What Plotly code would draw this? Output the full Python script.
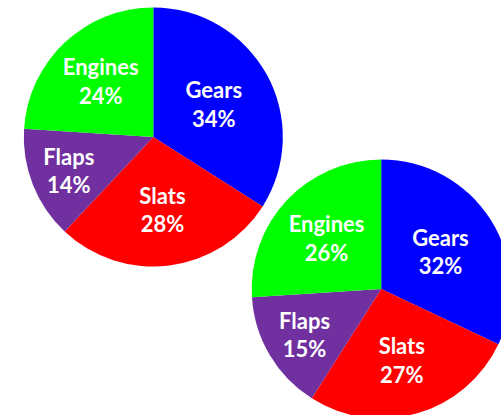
import plotly.graph_objects as go

labels = ["Gears", "Slats", "Flaps", "Engines"]
values_a = [34, 28, 14, 24]
values_b = [32, 27, 15, 26]
colors = ["#0000FF", "#FF0000", "#7030A0", "#00FF00"]

W, H = 520, 430

def pie(values, dx, dy):
    return go.Pie(
        labels=labels, values=values, sort=False, direction="clockwise", rotation=0,
        marker=dict(colors=colors, line=dict(width=0)),
        texttemplate="%{label}<br>%{percent:.0%}", textposition="inside",
        insidetextorientation="horizontal",
        textfont=dict(family="Lato", size=22, color="white", weight="bold"),
        hoverinfo="label+percent", domain=dict(x=dx, y=dy), showlegend=False,
    )

fig = go.Figure()
fig.add_trace(pie(values_a, [23.8 / W, 282.8 / W], [1 - 266.5 / H, 1 - 7.5 / H]))
fig.add_trace(pie(values_b, [251.7 / W, 510.7 / W], [1 - 418.5 / H, 1 - 159.5 / H]))
fig.update_layout(width=W, height=H, margin=dict(l=0, r=0, t=0, b=0),
                  paper_bgcolor="white", plot_bgcolor="white")
fig.write_html("out.html", config={"displayModeBar": False},
               post_script="document.body.style.margin='0';document.body.style.overflow='hidden';")
